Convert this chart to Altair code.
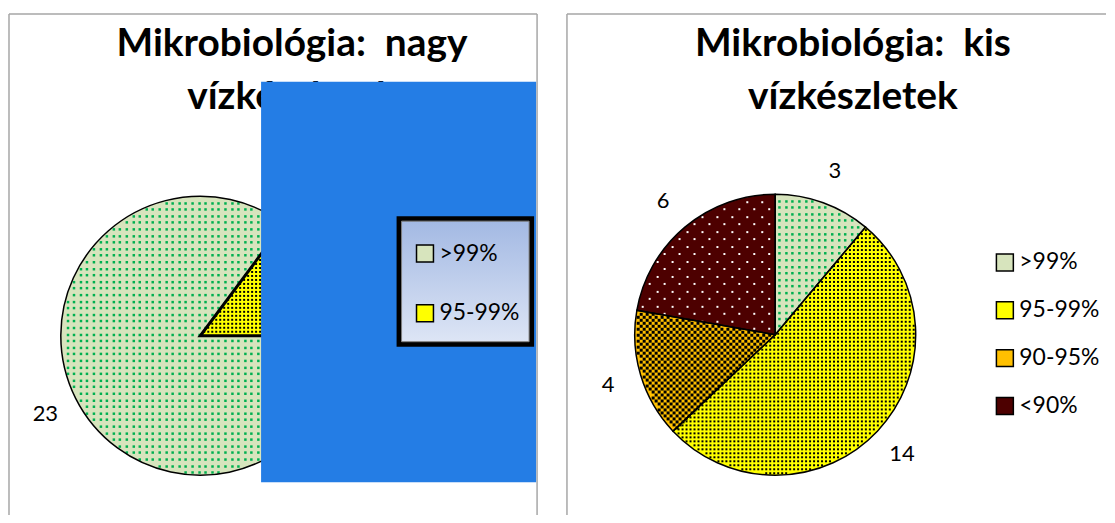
import math
import altair as alt
import pandas as pd

# ---------------- data ----------------
left_title = ["Mikrobiológia:  nagy", "vízkészletek"]
right_title = ["Mikrobiológia:  kis", "vízkészletek"]

left_categories = [">99%", "95-99%"]
left_values = [23, 4]

right_categories = [">99%", "95-99%", "90-95%", "<90%"]
right_values = [3, 14, 4, 6]

# ---------------- style ----------------
FONT = "Lato"
fill_of = {">99%": "#D7E4BD", "95-99%": "#FFFF00", "90-95%": "#FFC000", "<90%": "#4D0000"}
pattern_of = {
    ">99%": dict(kind="grid", sx=6.6, sy=6.6, stagger=False, size=6.25, off=0.25, color="#00B050"),
    "95-99%": dict(kind="grid", sx=4, sy=4, stagger=False, size=4, off=0, color="#000000"),
    "90-95%": dict(kind="checker", sx=3, sy=3, stagger=False, size=9, off=0.5, color="#000000"),
    "<90%": dict(kind="grid", sx=15, sy=7.5, stagger=True, size=4, off=0, color="#FFFFFF"),
}
BORDER = "#A6A6A6"


def one_row():
    return alt.Data(values=[{"k": 1}])


def texture(cx, cy, R, rot, f0, f1, p):
    sx, sy = p["sx"], p["sy"]
    cols = int(2 * R / sx) + 3
    rows = int(2 * R / sy) + 3
    n = cols * rows
    stag = "true" if p["stagger"] else "false"
    cond = f"datum.dist < {R - 1.5} && datum.frac >= {f0} && datum.frac < {f1}"
    if p["kind"] == "checker":
        cond += " && (datum.col + datum.row) % 2 == 0"
    return (
        alt.Chart(alt.sequence(0, n, as_="i"))
        .transform_calculate(col=f"datum.i % {cols}", row=f"floor(datum.i / {cols})")
        .transform_calculate(
            gx=f"round(datum.col * {sx} + (({stag}) && (datum.row % 2 == 1) ? {sx / 2} : 0)) - {R}",
            gy=f"round(datum.row * {sy}) - {R}",
        )
        .transform_calculate(
            dist="sqrt(datum.gx * datum.gx + datum.gy * datum.gy)",
            frac=f"((atan2(datum.gx, -datum.gy) - {rot}) / (2 * PI) + 2) % 1",
        )
        .transform_filter(cond)
        .transform_calculate(px=f"{cx} + datum.gx + {p['off']}", py=f"{cy} + datum.gy + {p['off']}")
        .mark_square(size=p["size"], opacity=1, filled=True, color=p["color"], strokeWidth=0)
        .encode(
            x=alt.X("px:Q", scale=None, axis=None),
            y=alt.Y("py:Q", scale=None, axis=None),
        )
    )


def panel(cats, vals, title, cx, cy, R, rot, stroke_widths, legend_x, legend_y,
          row_pad, title_x, label_r, borders):
    df = pd.DataFrame({"cat": cats, "val": vals, "idx": list(range(len(cats)))})
    theta = alt.Theta("val:Q", stack=True, scale=alt.Scale(range=[rot, rot + 2 * math.pi]))
    order = alt.Order("idx:Q", sort="ascending")

    fills = (
        alt.Chart(df)
        .mark_arc(radius=R)
        .encode(
            theta=theta,
            order=order,
            x=alt.value(cx),
            y=alt.value(cy),
            color=alt.Color(
                "cat:N",
                scale=alt.Scale(domain=cats, range=[fill_of[c] for c in cats]),
                legend=alt.Legend(
                    title=None, orient="none", legendX=legend_x, legendY=legend_y,
                    symbolType="square", symbolSize=289, symbolStrokeColor="black",
                    symbolStrokeWidth=1.5, symbolOpacity=1,
                    labelFont=FONT, labelFontSize=23, labelColor="black",
                    labelOffset=3, rowPadding=row_pad, padding=0, zindex=1,
                ),
            ),
        )
    )

    total = sum(vals)
    cum = [0]
    for v in vals:
        cum.append(cum[-1] + v)
    tex = [texture(cx, cy, R, rot, cum[i] / total, cum[i + 1] / total, pattern_of[c])
           for i, c in enumerate(cats)]

    outline = (
        alt.Chart(df)
        .mark_arc(radius=R, fillOpacity=0, stroke="black")
        .encode(
            theta=theta, order=order, x=alt.value(cx), y=alt.value(cy),
            strokeWidth=alt.StrokeWidth(
                "idx:O", scale=alt.Scale(domain=list(range(len(cats))), range=stroke_widths),
                legend=None,
            ),
        )
    )

    labels = (
        alt.Chart(df)
        .mark_text(radius=label_r, font=FONT, fontSize=22, color="black",
                   align="center", baseline="middle")
        .encode(theta=theta, order=order, x=alt.value(cx), y=alt.value(cy),
                text=alt.Text("val:Q"))
    )

    ttl = (
        alt.Chart(pd.DataFrame({"t": ["\n".join(s.replace("  ", " \u00a0") for s in title)]}))
        .mark_text(lineBreak="\n", align="center", baseline="alphabetic", font=FONT,
                   fontWeight="bold", fontSize=39, lineHeight=53, color="black")
        .encode(text="t:N", x=alt.value(title_x), y=alt.value(42))
    )

    rules = [
        alt.Chart(one_row()).mark_rule(color=BORDER, strokeWidth=1.5).encode(
            x=alt.value(b[0]), x2=alt.value(b[1]), y=alt.value(b[2]), y2=alt.value(b[3]))
        for b in borders
    ]
    return [*rules, ttl, fills, *tex, outline, labels]


W_L, W_R, H = 530, 541, 503

left_layers = panel(
    left_categories, left_values, left_title,
    cx=192, cy=323, R=140, rot=math.pi / 2, stroke_widths=[1.5, 3],
    legend_x=406, legend_y=229, row_pad=36, title_x=284, label_r=174,
    borders=[(0, W_L, 0, 0), (0, 0, 0, H), (W_L, W_L, 0, H)],
)

blue = alt.Chart(one_row()).mark_rect(color="#247DE5").encode(
    x=alt.value(253), x2=alt.value(529), y=alt.value(68), y2=alt.value(470))
legend_frame = alt.Chart(one_row()).mark_rect(color="black").encode(
    x=alt.value(389), x2=alt.value(527), y=alt.value(203), y2=alt.value(334))
legend_bg = alt.Chart(one_row()).mark_rect(
    color=alt.LinearGradient(
        gradient="linear",
        stops=[alt.GradientStop(color="#A3B9E3", offset=0),
               alt.GradientStop(color="#DDE5F5", offset=1)],
        x1=0, x2=0, y1=0, y2=1,
    ),
    stroke="#7F7F7F", strokeWidth=1,
).encode(x=alt.value(394), x2=alt.value(522), y=alt.value(208), y2=alt.value(329))

left = alt.layer(*left_layers, blue, legend_frame, legend_bg).properties(width=W_L, height=H)

right_layers = panel(
    right_categories, right_values, right_title,
    cx=209, cy=322, R=141, rot=0, stroke_widths=[1.5, 1.5, 1.5, 1.5],
    legend_x=428, legend_y=238, row_pad=24, title_x=287, label_r=175,
    borders=[(0, W_R, 0, 0), (0, 0, 0, H)],
)
right = alt.layer(*right_layers).properties(width=W_R, height=H)

chart = (
    alt.hconcat(left, right, spacing=28)
    .resolve_scale(color="independent", theta="independent", strokeWidth="independent")
    .resolve_legend(color="independent")
    .properties(padding={"left": 0, "top": 4, "right": 0, "bottom": 0})
    .configure_view(stroke=None)
)

chart.save("out.html", embed_options={"renderer": "svg", "actions": False})
